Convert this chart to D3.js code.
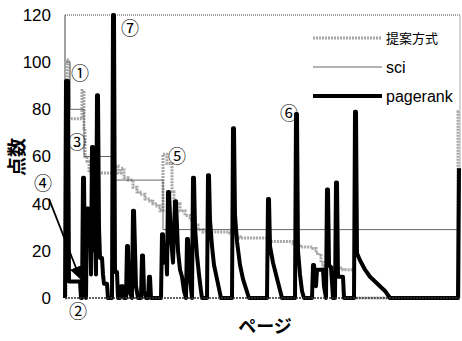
<!DOCTYPE html>
<html><head><meta charset="utf-8">
<script src="https://cdn.jsdelivr.net/npm/d3@7/dist/d3.min.js"></script>
<style>body{margin:0;background:#fff}svg{display:block}</style>
</head><body>
<svg id="c" width="462" height="341"></svg>
<script>
const yTicks = [0, 20, 40, 60, 80, 100, 120];
const seriesNames = ["提案方式", "sci", "pagerank"];
// [page, value] — step series (value holds from page onward)
const proposed = [[0,0],[1,101],[4,76],[17,88],[19,72],[20,60],[22,58],[24,54],[26,53],[50,56],[53,53],[56,55],[59,51],[63,50],[68,47],[72,45],[75,44],[80,42],[85,41],[88,40],[92,39],[95,37],[98,61],[102,57],[107,45],[109,41],[113,40],[115,37],[120,35],[125,33],[129,31],[133,29],[138,28],[165,27.5],[171,26],[175,25.4],[205,24],[228,23],[232,22],[235,21.6],[248,21],[251,19],[254,18],[256,15],[258,13],[268,12.7],[278,12],[289,0],[393,79],[395,79]];
const sci = [[1,100],[5,80],[19,60],[48,50],[98,29],[395,29]];
// [page, value] — polyline
const pagerank = [[0,0],[1,92],[3,92],[4,7],[15,7],[16,0],[17,0],[18,51],[19,51],[20,10],[21,0],[22,38],[23,38],[24,30],[25,38],[26,10],[27,64],[28,64],[29,20],[30,30],[31,10],[32,86],[33,86],[34,30],[35,17],[37,17],[38,10],[39,6],[42,6],[43,0],[47,0],[48,120],[49,120],[50,11],[52,11],[53,0],[55,0],[56,5],[58,5],[59,0],[61,0],[62,22],[63,22],[64,3],[67,0],[68,37],[69,37],[71,5],[73,0],[76,0],[77,18],[78,18],[79,3],[81,0],[83,0],[84,9],[85,9],[86,0],[96,0],[97,27],[98,27],[99,15],[101,20],[102,10],[103,45],[104,45],[106,25],[108,15],[110,41],[111,41],[113,20],[115,12],[117,9],[119,3],[121,0],[122,25],[123,25],[125,8],[127,0],[128,51],[129,51],[130,30],[132,18],[134,10],[136,3],[137,0],[142,0],[143,52],[144,52],[145,33],[147,22],[149,14],[152,8],[154,4],[156,0],[167,0],[168,72],[169,72],[170,35],[172,24],[175,14],[178,8],[181,4],[184,0],[202,0],[203,42],[204,42],[205,22],[208,15],[211,10],[214,5],[217,0],[230,0],[231,78],[232,78],[233,20],[235,10],[237,3],[239,0],[247,0],[248,14],[249,14],[251,5],[252,12],[258,12],[259,5],[261,0],[262,46],[263,46],[264,14],[266,13],[268,0],[270,0],[271,49],[272,49],[273,9],[278,9],[279,0],[289,0],[290,79],[291,79],[292,19],[295,16],[300,12],[305,9],[310,7],[315,5],[320,3],[325,0],[393,0],[394,55]];
const markers = [["①",15,95],["②",13,-6],["③",12,66],["④",-22,48.5],["⑤",112,60],["⑥",224,78],["⑦",65,114]];

const svg = d3.select("#c");
const x = d3.scaleLinear().domain([0,395]).range([65,460]);
const y = d3.scaleLinear().domain([0,120]).range([298,15]);
const font = "'Liberation Sans', Arial, sans-serif";

// frame
svg.append("line").attr("x1",x(0)).attr("x2",x(395)).attr("y1",y(120)).attr("y2",y(120)).attr("stroke","#888").attr("stroke-width",1.5).attr("stroke-dasharray","1,1");
svg.append("line").attr("x1",x(395)).attr("x2",x(395)).attr("y1",y(120)).attr("y2",y(0)).attr("stroke","#aaa").attr("stroke-width",1);
svg.append("line").attr("x1",x(0)).attr("x2",x(0)).attr("y1",y(120)).attr("y2",y(0)).attr("stroke","#444").attr("stroke-width",1);

const yAxis = d3.axisLeft(y).tickValues(yTicks).tickSize(0).tickPadding(14);
const ga = svg.append("g").attr("transform",`translate(${x(0)},0)`).call(yAxis);
ga.select(".domain").remove();
ga.selectAll("text").attr("font-family",font).attr("font-size",17).attr("fill","#000");

const stepLine = d3.line().x(d=>x(d[0])).y(d=>y(d[1])).curve(d3.curveStepAfter);
const polyLine = d3.line().x(d=>x(d[0])).y(d=>y(d[1]));

svg.append("path").attr("d",stepLine(proposed)).attr("fill","none").attr("stroke","#a6a6a6").attr("stroke-width",3).attr("stroke-dasharray","2,1");
svg.append("path").attr("d",stepLine(sci)).attr("fill","none").attr("stroke","#666").attr("stroke-width",1);
svg.append("path").attr("d",polyLine(pagerank)).attr("fill","none").attr("stroke","#000").attr("stroke-width",4).attr("stroke-linejoin","round");

// bottom axis
svg.append("line").attr("x1",x(0)).attr("x2",x(395)).attr("y1",y(0)).attr("y2",y(0)).attr("stroke","#333").attr("stroke-width",1.5).attr("stroke-dasharray","2,1");

// legend
const legY = [38, 67, 96];
const legStyle = [
  {s:"#a6a6a6", w:3, d:"2,1"},
  {s:"#666", w:1, d:null},
  {s:"#000", w:4, d:null}
];
seriesNames.forEach((n,i)=>{
  svg.append("line").attr("x1",313).attr("x2",382).attr("y1",legY[i]).attr("y2",legY[i])
    .attr("stroke",legStyle[i].s).attr("stroke-width",legStyle[i].w).attr("stroke-dasharray",legStyle[i].d);
  svg.append("text").attr("x",386).attr("y",legY[i]).attr("dy","0.35em").text(n)
    .attr("font-family", i===0 ? "'Noto Sans CJK JP', sans-serif" : font)
    .attr("font-size", i===0 ? 13 : 16).attr("fill","#000");
});

// axis titles
svg.append("text").attr("transform","translate(17,157) rotate(-90)").attr("text-anchor","middle").attr("dy","0.35em")
  .attr("font-family","'Noto Sans CJK JP', sans-serif").attr("font-size",19).attr("font-weight","bold").text("点数");
svg.append("text").attr("x",265).attr("y",327).attr("text-anchor","middle").attr("dy","0.35em")
  .attr("font-family","'Noto Sans CJK JP', sans-serif").attr("font-size",18).attr("font-weight","bold").text("ページ");

// markers
markers.forEach(m=>{
  svg.append("text").attr("x",x(m[1])).attr("y",y(m[2])).attr("text-anchor","middle").attr("dy","0.35em")
    .attr("font-family","'Noto Sans CJK JP', sans-serif").attr("font-size",18).attr("fill","#000").text(m[0]);
});

// arrow from ④
svg.append("defs").append("marker").attr("id","ah").attr("viewBox","0 0 10 10").attr("refX",9).attr("refY",5)
  .attr("markerWidth",7).attr("markerHeight",7).attr("orient","auto")
  .append("path").attr("d","M0,0L10,5L0,10z").attr("fill","#000");
svg.append("line").attr("x1",x(-16)).attr("y1",y(42)).attr("x2",x(15)).attr("y2",y(8.5))
  .attr("stroke","#000").attr("stroke-width",1.8).attr("marker-end","url(#ah)");
</script>
</body></html>
